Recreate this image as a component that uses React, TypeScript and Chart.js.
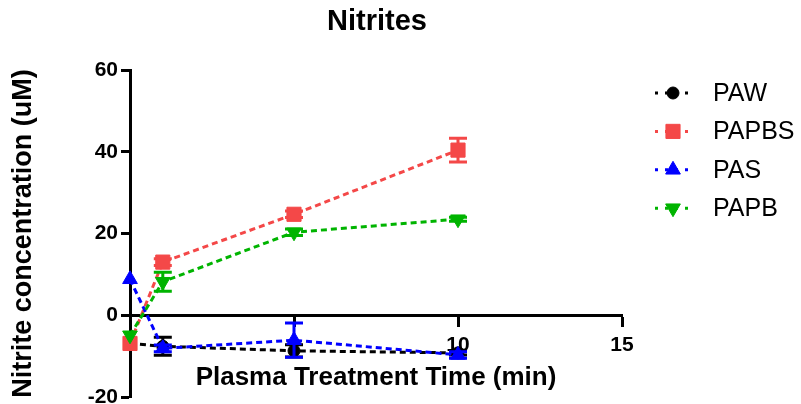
import React, { useEffect, useRef } from 'react';
import { Chart, registerables } from 'chart.js';
import { drawPoint } from 'chart.js/helpers';

Chart.register(...registerables);

// ---- data ----
const chartTitle = 'Nitrites';
const timePoints = [0, 1, 5, 10];
const seriesNames = ['PAW', 'PAPBS', 'PAS', 'PAPB'];
const pawValues = [-6.9, -7.6, -8.7, -9.2];
const pawErrors = [0, 2.2, 1.5, 0.5];
const papbsValues = [-6.9, 13.0, 24.7, 40.4];
const papbsErrors = [0, 0.8, 0.8, 2.9];
const pasValues = [8.8, -8.1, -6.1, -9.7];
const pasErrors = [0, 0.8, 4.2, 0.8];
const papbValues = [-4.9, 8.2, 20.3, 23.5];
const papbErrors = [0, 2.3, 0.8, 0.5];
const xTickValues = [0, 5, 10, 15];
const xTickLabels = ['', '', '10', '15'];
const yTickValues = [-20, 0, 20, 40, 60];
const yTickLabels = ['-20', '0', '20', '40', '60'];

const FONT = "'Liberation Sans', Arial, Helvetica, sans-serif";

const seriesStyles = [
  { color: '#000000', pointStyle: 'circle', radius: 6, rotation: 0 },
  { color: '#F44848', pointStyle: 'rect', radius: 10, rotation: 0 },
  { color: '#0000FF', pointStyle: 'triangle', radius: 8.5, rotation: 0 },
  { color: '#00B400', pointStyle: 'triangle', radius: 8.5, rotation: 180 },
];

const allValues = [pawValues, papbsValues, pasValues, papbValues];
const allErrors = [pawErrors, papbsErrors, pasErrors, papbErrors];

const errorBarPlugin = {
  id: 'errorBars',
  beforeDatasetDraw(chart: any, args: any) {
    const i = args.index;
    const errs = allErrors[i];
    const vals = allValues[i];
    const xs = chart.scales.x;
    const ys = chart.scales.y;
    const ctx = chart.ctx;
    ctx.save();
    ctx.strokeStyle = seriesStyles[i].color;
    ctx.lineWidth = 3;
    ctx.setLineDash([]);
    timePoints.forEach((t, j) => {
      const e = errs[j];
      if (!e) return;
      const px = xs.getPixelForValue(t);
      const top = ys.getPixelForValue(vals[j] + e);
      const bot = ys.getPixelForValue(vals[j] - e);
      ctx.beginPath();
      ctx.moveTo(px, top);
      ctx.lineTo(px, bot);
      ctx.moveTo(px - 9, top);
      ctx.lineTo(px + 9, top);
      ctx.moveTo(px - 9, bot);
      ctx.lineTo(px + 9, bot);
      ctx.stroke();
    });
    ctx.restore();
  },
};

const titleAndLegendPlugin = {
  id: 'titleAndLegend',
  afterDraw(chart: any) {
    const ctx = chart.ctx;
    const area = chart.chartArea;
    ctx.save();
    // title centred over plot area
    ctx.fillStyle = '#000';
    ctx.font = `bold 29px ${FONT}`;
    ctx.textAlign = 'center';
    ctx.textBaseline = 'middle';
    ctx.fillText(chartTitle, (area.left + area.right) / 2 + 1, 22);

    const lineStart = area.right + 33;
    const lineEnd = area.right + 70;
    const markerX = area.right + 51;
    const textX = area.right + 91;
    seriesNames.forEach((name, i) => {
      const st = seriesStyles[i];
      const y = 93 + i * 38.4;
      ctx.strokeStyle = st.color;
      ctx.lineWidth = 3;
      ctx.setLineDash([3, 7]);
      ctx.beginPath();
      ctx.moveTo(lineStart, y);
      ctx.lineTo(lineEnd, y);
      ctx.stroke();
      ctx.setLineDash([]);
      ctx.fillStyle = st.color;
      ctx.strokeStyle = st.color;
      ctx.lineWidth = 1;
      drawPoint(ctx, { pointStyle: st.pointStyle, radius: st.radius, rotation: st.rotation, borderWidth: 1 } as any, markerX, y);
      ctx.fillStyle = '#000';
      ctx.font = `25px ${FONT}`;
      ctx.textAlign = 'left';
      ctx.textBaseline = 'middle';
      ctx.fillText(name, textX, y + 1);
    });
    ctx.restore();
  },
};

export default function App() {
  const ref = useRef<HTMLCanvasElement | null>(null);
  useEffect(() => {
    if (!ref.current) return;
    const datasets = seriesNames.map((name, i) => ({
      label: name,
      data: timePoints.map((t, j) => ({ x: t, y: allValues[i][j] })),
      order: seriesNames.length - i,
      borderColor: seriesStyles[i].color,
      backgroundColor: seriesStyles[i].color,
      borderWidth: 3,
      borderDash: [6, 4],
      pointStyle: seriesStyles[i].pointStyle,
      pointRadius: seriesStyles[i].radius,
      pointRotation: seriesStyles[i].rotation,
      pointBorderWidth: 1,
      pointHoverRadius: seriesStyles[i].radius,
      tension: 0,
      fill: false,
      clip: false as any,
    }));
    const chart = new Chart(ref.current, {
      type: 'line',
      data: { datasets },
      options: {
        animation: false,
        responsive: true,
        maintainAspectRatio: false,
        layout: { autoPadding: false, padding: { left: 0, right: 179, top: 70, bottom: 7 } },
        plugins: {
          legend: { display: false },
          tooltip: { enabled: false },
          title: { display: false },
        },
        scales: {
          x: {
            type: 'linear',
            min: 0,
            max: 15,
            position: { y: 0 } as any,
            afterBuildTicks: (s: any) => {
              s.ticks = xTickValues.map((v) => ({ value: v }));
            },
            ticks: {
              color: '#000',
              font: { family: FONT, size: 21, weight: 'bold' },
              padding: 7,
              maxRotation: 0,
              autoSkip: false,
              callback: (v: any, idx: number) => xTickLabels[idx],
            },
            grid: { display: true, drawOnChartArea: false, drawTicks: true, tickLength: 10, tickWidth: 3, tickColor: '#000', color: '#000' },
            border: { display: true, color: '#000', width: 3 },
            title: {
              display: true,
              text: 'Plasma Treatment Time (min)',
              color: '#000',
              font: { family: FONT, size: 26, weight: 'bold', lineHeight: 1.0 },
              padding: { top: 0, bottom: 0 },
            },
          },
          y: {
            type: 'linear',
            min: -20,
            max: 60,
            afterBuildTicks: (s: any) => {
              s.ticks = yTickValues.map((v) => ({ value: v }));
            },
            afterFit: (s: any) => {
              s.width = 130;
              s.paddingTop = 0;
              s.paddingBottom = 0;
            },
            ticks: {
              color: '#000',
              font: { family: FONT, size: 21, weight: 'bold' },
              padding: 3,
              autoSkip: false,
              callback: (v: any, idx: number) => yTickLabels[idx],
            },
            grid: { display: true, drawOnChartArea: false, drawTicks: true, tickLength: 9, tickWidth: 3, tickColor: '#000', color: '#000' },
            border: { display: true, color: '#000', width: 3 },
            title: {
              display: true,
              text: 'Nitrite concentration (uM)',
              color: '#000',
              font: { family: FONT, size: 27, weight: 'bold' },
              padding: { top: 7, bottom: 0 },
            },
          },
        },
      },
      plugins: [errorBarPlugin, titleAndLegendPlugin],
    });
    return () => chart.destroy();
  }, []);
  return (
    <div style={{ position: 'fixed', left: 0, top: 0, width: 801, height: 404, background: '#fff' }}>
      <canvas ref={ref} />
    </div>
  );
}
